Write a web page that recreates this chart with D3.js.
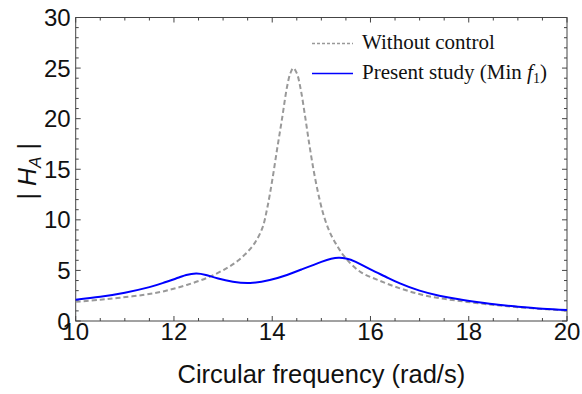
<!DOCTYPE html>
<html>
<head>
<meta charset="utf-8">
<script src="https://cdn.jsdelivr.net/npm/d3@7"></script>
<style>
  body { margin: 0; background: #fff; }
  svg text { font-family: "Liberation Sans", Arial, sans-serif; }
</style>
</head>
<body>
<div id="chart"></div>
<script>
let width = 582, height = 394,
    margin = ({ top: 17.5, right: 15, bottom: 73, left: 75.7 });

const freqWithout = [10, 10.5, 10.9, 11.4, 11.8, 12.26, 12.73, 13.1, 13.3, 13.5, 13.65, 13.8, 13.9, 14.0, 14.1, 14.2, 14.3, 14.37, 14.43, 14.5, 14.58, 14.67, 14.76, 14.85, 14.95, 15.05, 15.17, 15.3, 15.48, 15.79, 16.19, 16.6, 17.01, 17.42, 17.82, 18.2, 18.7, 19.3, 20];
const ampWithout  = [1.9, 2.1, 2.3, 2.6, 2.95, 3.56, 4.38, 5.3, 5.95, 6.85, 7.75, 9.2, 11.2, 13.9, 17.0, 20.0, 23.1, 24.5, 25.0, 24.5, 22.9, 20.2, 17.3, 14.7, 12.3, 10.4, 8.8, 7.6, 6.3, 4.87, 3.98, 3.23, 2.64, 2.24, 1.98, 1.75, 1.5, 1.25, 1.02];
const freqStudy = [10, 10.5, 11, 11.5, 11.8, 12.1, 12.25, 12.45, 12.65, 12.9, 13.2, 13.55, 13.95, 14.3, 14.6, 15.0, 15.2, 15.35, 15.5, 15.7, 16.0, 16.3, 16.6, 17.0, 17.4, 17.8, 18.2, 18.6, 19.0, 19.5, 20];
const ampStudy  = [2.1, 2.4, 2.8, 3.35, 3.8, 4.3, 4.55, 4.7, 4.55, 4.2, 3.88, 3.75, 4.05, 4.55, 5.1, 5.85, 6.15, 6.25, 6.18, 5.85, 5.1, 4.4, 3.72, 3.0, 2.5, 2.14, 1.85, 1.6, 1.42, 1.22, 1.09];
const xTicks = [10, 12, 14, 16, 18, 20];
const yTicks = [0, 5, 10, 15, 20, 25, 30];

const svg = d3.select("#chart").append("svg")
    .attr("width", width).attr("height", height);

let x = d3.scaleLinear().domain([10, 20]).range([margin.left, width - margin.right]);
let y = d3.scaleLinear().domain([0, 30]).range([height - margin.bottom, margin.top]);

const frameColor = "#444";

// frame
svg.append("rect")
    .attr("x", x(10)).attr("y", y(30))
    .attr("width", x(20) - x(10)).attr("height", y(0) - y(30))
    .attr("fill", "none").attr("stroke", frameColor).attr("stroke-width", 1);

// ticks, inward, on all sides
const xMinor = d3.range(10, 20.01, 0.5), yMinor = d3.range(0, 30.01, 1);
const tk = svg.append("g").attr("stroke", frameColor).attr("stroke-width", 1);
xMinor.forEach(v => {
  let len = xTicks.includes(v) ? 5 : 3;
  tk.append("line").attr("x1", x(v)).attr("x2", x(v)).attr("y1", y(0)).attr("y2", y(0) - len);
  tk.append("line").attr("x1", x(v)).attr("x2", x(v)).attr("y1", y(30)).attr("y2", y(30) + len);
});
yMinor.forEach(v => {
  let len = yTicks.includes(v) ? 5 : 3;
  tk.append("line").attr("y1", y(v)).attr("y2", y(v)).attr("x1", x(10)).attr("x2", x(10) + len);
  tk.append("line").attr("y1", y(v)).attr("y2", y(v)).attr("x1", x(20)).attr("x2", x(20) - len);
});

// tick labels
svg.append("g").selectAll("text").data(xTicks).join("text")
    .attr("x", d => x(d)).attr("y", y(0) + 19)
    .attr("text-anchor", "middle").attr("font-size", 24).attr("fill", "#111")
    .text(d => d);
svg.append("g").selectAll("text").data(yTicks).join("text")
    .attr("x", x(10) - 5).attr("y", d => y(d) + 8.5)
    .attr("text-anchor", "end").attr("font-size", 24).attr("fill", "#111")
    .text(d => d);

// axis titles
svg.append("text")
    .attr("x", (x(10) + x(20)) / 2).attr("y", 383)
    .attr("text-anchor", "middle").attr("font-size", 25.5).attr("fill", "#111")
    .text("Circular frequency (rad/s)");

const yl = svg.append("text")
    .attr("transform", `translate(36,${y(15) + 2}) rotate(-90)`)
    .attr("text-anchor", "middle").attr("font-size", 25).attr("fill", "#111");
yl.append("tspan").text("| ");
yl.append("tspan").attr("font-style", "italic").text("H");
yl.append("tspan").attr("font-style", "italic").attr("font-size", 17).attr("dy", 5).text("A");
yl.append("tspan").attr("dy", -5).text(" |");

// curves
const lineGray = d3.line().x(d => x(d[0])).y(d => y(d[1])).curve(d3.curveCatmullRom.alpha(0.5));
const lineBlue = d3.line().x(d => x(d[0])).y(d => y(d[1])).curve(d3.curveNatural);

svg.append("path")
    .datum(d3.zip(freqWithout, ampWithout))
    .attr("d", lineGray)
    .attr("fill", "none").attr("stroke", "#999").attr("stroke-width", 2)
    .attr("stroke-dasharray", "5,3");

svg.append("path")
    .datum(d3.zip(freqStudy, ampStudy))
    .attr("d", lineBlue)
    .attr("fill", "none").attr("stroke", "#0000ff").attr("stroke-width", 2);

// legend
const lg = svg.append("g");
lg.append("line").attr("x1", 312).attr("x2", 353).attr("y1", 43.5).attr("y2", 43.5)
    .attr("stroke", "#999").attr("stroke-width", 1.5).attr("stroke-dasharray", "3,2");
lg.append("text").attr("x", 362).attr("y", 49).attr("font-size", 21).attr("fill", "#111")
    .style("font-family", "'Liberation Serif', serif").text("Without control");
lg.append("line").attr("x1", 312).attr("x2", 353).attr("y1", 73.5).attr("y2", 73.5)
    .attr("stroke", "#0000ff").attr("stroke-width", 1.5);
const t2 = lg.append("text").attr("x", 362).attr("y", 79).attr("font-size", 21).attr("fill", "#111")
    .style("font-family", "'Liberation Serif', serif");
t2.append("tspan").text("Present study (Min ");
t2.append("tspan").attr("font-style", "italic").text("f");
t2.append("tspan").attr("font-size", 14).attr("dy", 4).text("1");
t2.append("tspan").attr("dy", -4).text(")");
</script>
</body>
</html>
